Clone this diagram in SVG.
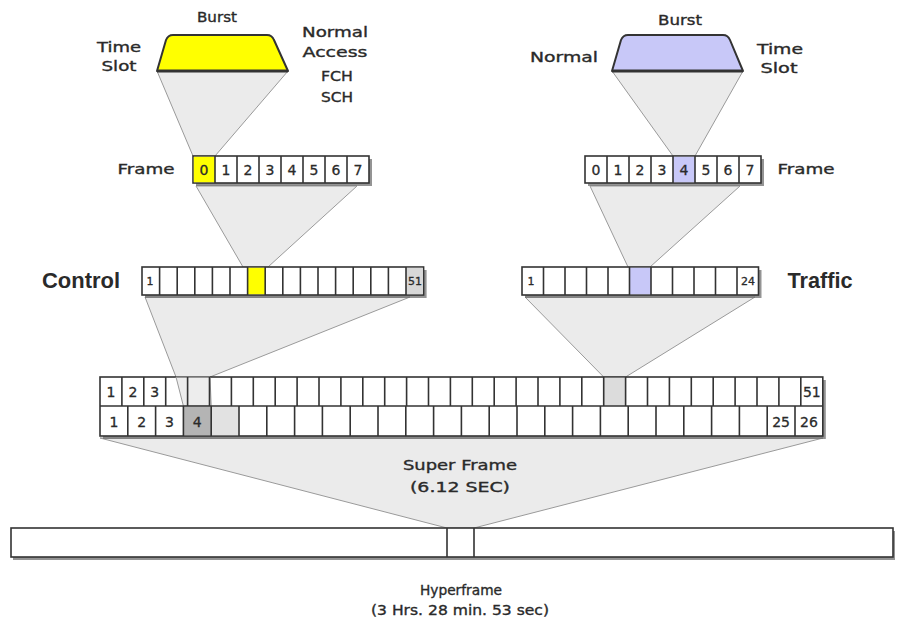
<svg xmlns="http://www.w3.org/2000/svg" width="904" height="623" viewBox="0 0 904 623">
<style>
.lbl{font-family:"DejaVu Sans","Liberation Sans",sans-serif;font-size:14px;fill:#2a2a2a;stroke:#2a2a2a;stroke-width:.35;text-anchor:middle}
.num{font-family:"DejaVu Sans","Liberation Sans",sans-serif;font-size:14px;fill:#2a2a2a;stroke:#2a2a2a;stroke-width:.3;text-anchor:middle}
.sm{font-family:"DejaVu Sans","Liberation Sans",sans-serif;font-size:11px;fill:#2a2a2a;stroke:#2a2a2a;stroke-width:.3;text-anchor:middle}
.big{font-family:"Liberation Sans",Arial,sans-serif;font-weight:bold;font-size:22px;fill:#2a2a2a;text-anchor:middle}
.box{fill:#fff;stroke:#333;stroke-width:1.6}
.shadow{fill:#666;opacity:.7}
.div{fill:none;stroke:#333;stroke-width:1.6}
.funnel{fill:#ebebeb;stroke:#9a9a9a;stroke-width:1}
.funnelT{fill:#d8d8d8;fill-opacity:.45;stroke:#9a9a9a;stroke-width:1}
.burst{stroke:#333;stroke-width:2;stroke-linejoin:round}
</style>
<rect width="904" height="623" fill="#fff"/>

<g id="connectors">
<polygon class="funnel" points="157,71 288,71 215,156 193,156"/>
<polygon class="funnel" points="612,71 743,71 695,156 673,156"/>
<polygon class="funnel" points="196,186 357,186 268,267 243,267"/>
<polygon class="funnel" points="590,186 740,186 650,267 628,267"/>
<polygon class="funnel" points="145,297 410,297 210,377 176,377"/>
<polygon class="funnel" points="525,297 755,297 625.6,377 603.7,377"/>
<polygon class="funnel" points="100,438 823,438 474,528 447,528"/>
</g>

<g id="burst-control">
<path class="burst" fill="#ffff00" d="M157,71 L166,40 Q168,35 173,35 L267,35 Q272,35 274,40 L288,71 Z"/>
<line x1="157" y1="71" x2="288" y2="71" stroke="#333" stroke-width="3"/>
<text class="lbl" x="217" y="22" textLength="40" lengthAdjust="spacingAndGlyphs">Burst</text>
<text class="lbl" x="119" y="52" textLength="44" lengthAdjust="spacingAndGlyphs">Time</text>
<text class="lbl" x="119" y="71" textLength="35" lengthAdjust="spacingAndGlyphs">Slot</text>
<text class="lbl" x="335" y="37" textLength="66" lengthAdjust="spacingAndGlyphs">Normal</text>
<text class="lbl" x="335" y="57" textLength="65" lengthAdjust="spacingAndGlyphs">Access</text>
<text class="lbl" x="337" y="81" textLength="32" lengthAdjust="spacingAndGlyphs">FCH</text>
<text class="lbl" x="337" y="102" textLength="32" lengthAdjust="spacingAndGlyphs">SCH</text>
</g>

<g id="burst-traffic">
<path class="burst" fill="#c8c8f8" d="M612,71 L621,40 Q623,35 628,35 L723,35 Q728,35 730,40 L743,71 Z"/>
<line x1="612" y1="71" x2="743" y2="71" stroke="#333" stroke-width="3"/>
<text class="lbl" x="680" y="25" textLength="44" lengthAdjust="spacingAndGlyphs">Burst</text>
<text class="lbl" x="564" y="62" textLength="68" lengthAdjust="spacingAndGlyphs">Normal</text>
<text class="lbl" x="780" y="54" textLength="46" lengthAdjust="spacingAndGlyphs">Time</text>
<text class="lbl" x="779" y="73" textLength="37" lengthAdjust="spacingAndGlyphs">Slot</text>
</g>

<g id="frame-control">
<text class="lbl" x="146" y="174" textLength="57" lengthAdjust="spacingAndGlyphs">Frame</text>
<rect class="shadow" x="196" y="159" width="176" height="27"/>
<rect class="box" x="193" y="156" width="176" height="27"/>
<rect x="193.8" y="156.8" width="21.2" height="25.4" fill="#ffff00"/>
<path class="div" d="M215,156V183M237,156V183M259,156V183M281,156V183M303,156V183M325,156V183M347,156V183"/>
<text class="num" x="204" y="175">0</text><text class="num" x="226" y="175">1</text><text class="num" x="248" y="175">2</text><text class="num" x="270" y="175">3</text><text class="num" x="292" y="175">4</text><text class="num" x="314" y="175">5</text><text class="num" x="336" y="175">6</text><text class="num" x="358" y="175">7</text>
</g>

<g id="frame-traffic">
<text class="lbl" x="806" y="174" textLength="57" lengthAdjust="spacingAndGlyphs">Frame</text>
<rect class="shadow" x="588" y="159" width="176" height="27"/>
<rect class="box" x="585" y="156" width="176" height="27"/>
<rect x="673" y="156.8" width="22" height="25.4" fill="#c8c8f8"/>
<path class="div" d="M607,156V183M629,156V183M651,156V183M673,156V183M695,156V183M717,156V183M739,156V183"/>
<text class="num" x="596" y="175">0</text><text class="num" x="618" y="175">1</text><text class="num" x="640" y="175">2</text><text class="num" x="662" y="175">3</text><text class="num" x="684" y="175" fill="#3a3a8a" stroke="#3a3a8a">4</text><text class="num" x="706" y="175">5</text><text class="num" x="728" y="175">6</text><text class="num" x="750" y="175">7</text>
</g>

<g id="control-multiframe">
<text class="big" x="81" y="288" textLength="78" lengthAdjust="spacingAndGlyphs">Control</text>
<rect class="shadow" x="145" y="270" width="281.6" height="28"/>
<rect class="box" x="142" y="267" width="281.6" height="28"/>
<rect x="247.6" y="267.8" width="17.6" height="26.4" fill="#ffff00"/>
<rect x="406" y="267.8" width="16.8" height="26.4" fill="#d8d8d8"/>
<path class="div" d="M159.6,267V295M177.2,267V295M194.8,267V295M212.4,267V295M230,267V295M247.6,267V295M265.2,267V295M282.8,267V295M300.4,267V295M318,267V295M335.6,267V295M353.2,267V295M370.8,267V295M388.4,267V295M406,267V295"/>
<text class="sm" x="150" y="285">1</text>
<text class="sm" x="415" y="285">51</text>
</g>

<g id="traffic-multiframe">
<text class="big" x="820" y="288" textLength="65" lengthAdjust="spacingAndGlyphs">Traffic</text>
<rect class="shadow" x="525" y="270" width="236.5" height="28"/>
<rect class="box" x="522" y="267" width="236.5" height="28"/>
<rect x="629.5" y="267.8" width="21.5" height="26.4" fill="#c8c8f8"/>
<path class="div" d="M543.5,267V295M565,267V295M586.5,267V295M608,267V295M629.5,267V295M651,267V295M672.5,267V295M694,267V295M715.5,267V295M737,267V295"/>
<text class="sm" x="531" y="285">1</text>
<text class="sm" x="748" y="285">24</text>
</g>

<g id="superframe">
<rect class="shadow" x="103" y="380" width="722.8" height="59"/>
<rect class="box" x="100" y="377" width="722.8" height="59"/>
<rect x="603.7" y="377.8" width="21.9" height="28" fill="#dcdcdc"/>
<rect x="183.4" y="406.8" width="27.8" height="28.4" fill="#b4b4b4"/>
<rect x="211.2" y="406.8" width="27.8" height="28.4" fill="#e2e2e2"/>
<polygon class="funnelT" points="176,377 210,377 211.2,406 183.4,406"/>
<path class="div" d="M100,406H822.8"/>
<path class="div" d="M121.9,377V406M143.8,377V406M165.7,377V406M187.6,377V406M209.5,377V406M231.4,377V406M253.3,377V406M275.2,377V406M297.1,377V406M319,377V406M340.9,377V406M362.8,377V406M384.7,377V406M406.6,377V406M428.5,377V406M450.4,377V406M472.3,377V406M494.2,377V406M516.1,377V406M538,377V406M559.9,377V406M581.8,377V406M603.7,377V406M625.6,377V406M647.5,377V406M669.4,377V406M691.3,377V406M713.2,377V406M735.1,377V406M757,377V406M778.9,377V406M800.8,377V406"/>
<path class="div" d="M127.8,406V436M155.6,406V436M183.4,406V436M211.2,406V436M239,406V436M266.8,406V436M294.6,406V436M322.4,406V436M350.2,406V436M378,406V436M405.8,406V436M433.6,406V436M461.4,406V436M489.2,406V436M517,406V436M544.8,406V436M572.6,406V436M600.4,406V436M628.2,406V436M656,406V436M683.8,406V436M711.6,406V436M739.4,406V436M767.2,406V436M795,406V436"/>
<text class="num" x="111" y="397">1</text><text class="num" x="132.9" y="397">2</text><text class="num" x="154.8" y="397">3</text><text class="num" x="811.8" y="397">51</text>
<text class="num" x="113.9" y="426.5">1</text><text class="num" x="141.7" y="426.5">2</text><text class="num" x="169.5" y="426.5">3</text><text class="num" x="197.3" y="426.5">4</text><text class="num" x="781.1" y="426.5">25</text><text class="num" x="808.9" y="426.5">26</text>
<text class="lbl" x="460" y="470" textLength="114" lengthAdjust="spacingAndGlyphs">Super Frame</text>
<text class="lbl" x="460" y="492" textLength="100" lengthAdjust="spacingAndGlyphs">(6.12 SEC)</text>
</g>

<g id="hyperframe">
<rect class="shadow" x="13" y="531" width="882" height="29"/>
<rect class="box" x="11" y="528" width="882" height="29"/>
<path class="div" d="M447,528V557M474,528V557"/>
<text class="lbl" x="461" y="595" textLength="82" lengthAdjust="spacingAndGlyphs">Hyperframe</text>
<text class="lbl" x="460" y="615" textLength="178" lengthAdjust="spacingAndGlyphs">(3 Hrs. 28 min. 53 sec)</text>
</g>
</svg>
